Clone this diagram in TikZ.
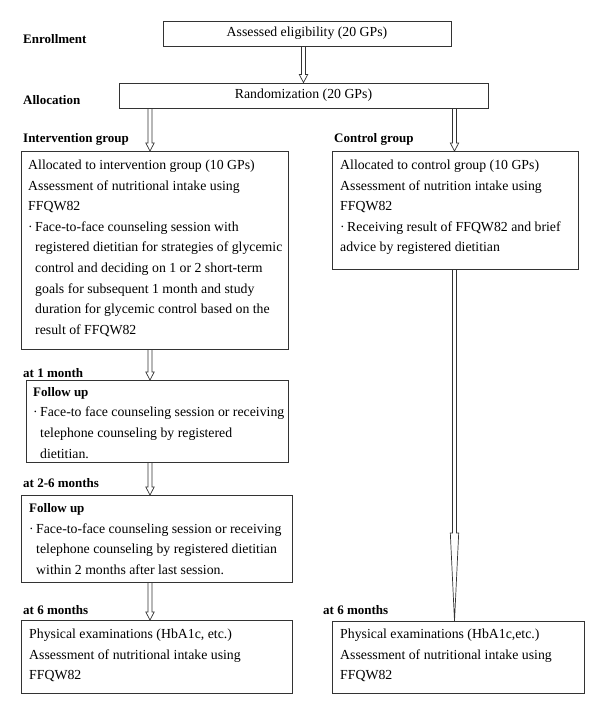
\documentclass[tikz,border=0pt]{standalone}
\usepackage{fontspec}
\setmainfont{Liberation Serif}
\usetikzlibrary{calc}
\newcommand{\fst}{\rule{0pt}{10pt}}
\newcommand{\bul}{\makebox[7pt][l]{·}}
\newcommand{\ind}{\hspace*{7pt}}
\newcommand{\harrow}[3]{%
  \draw[arr] let \p1=(#1), \p2=(#2) in
    (\x1-2pt,\y1) -- (\x1-2pt,\y2+#3) -- (\x1-4.2pt,\y2+#3) -- (\x1,\y2)
    -- (\x1+4.2pt,\y2+#3) -- (\x1+2pt,\y2+#3) -- (\x1+2pt,\y1);}
\tikzset{
  box/.style={draw=black!80, line width=0.9pt, inner sep=0pt, rectangle},
  boxnw/.style={box, anchor=north west},
  txt/.style={anchor=north west, inner sep=0pt, align=left,
    font=\fontsize{13.8}{20.6}\selectfont},
  ctxt/.style={font=\fontsize{13.8}{16}\selectfont},
  lbl/.style={anchor=base west, inner sep=0pt, font=\fontsize{13}{15}\selectfont\bfseries},
  arr/.style={draw=black!80, line width=0.7pt, line join=miter}
}
\begin{document}
\begin{tikzpicture}[x=1pt,y=-1pt]
\useasboundingbox (0,0) rectangle (600,714);
% boxes
\node[box, ctxt, minimum width=288, minimum height=25] (elig) at (307,33.5) {Assessed eligibility (20 GPs)};
\node[box, ctxt, minimum width=369, minimum height=25] (rand) at (303.5,95.5) {Randomization (20 GPs)};
\node[boxnw, minimum width=267, minimum height=198] (iv) at (21,151) {};
\node[boxnw, minimum width=246, minimum height=118] (ctrl) at (332,151) {};
\node[boxnw, minimum width=262, minimum height=82] (m1) at (26,380) {};
\node[boxnw, minimum width=271, minimum height=87] (m26) at (21,495) {};
\node[boxnw, minimum width=271, minimum height=73] (bl) at (21,620) {};
\node[boxnw, minimum width=252, minimum height=72] (br) at (332,621) {};
% texts
\node[txt] (ivt) at (28,159.3) {\fst Allocated to intervention group (10 GPs)\\
Assessment of nutritional intake using\\
FFQW82\\
\bul Face-to-face counseling session with\\
\ind registered dietitian for strategies of glycemic\\
\ind control and deciding on 1 or 2 short-term\\
\ind goals for subsequent 1 month and study\\
\ind duration for glycemic control based on the\\
\ind result of FFQW82};
\node[txt] (ctt) at (340,159.3) {\fst Allocated to control group (10 GPs)\\
Assessment of nutrition intake using\\
FFQW82\\
\bul Receiving result of FFQW82 and brief\\
advice by registered dietitian};
\node[txt] (m1t) at (33,386) {\fst\textbf{\fontsize{13}{20.6}\selectfont Follow up}\\
\bul Face-to face counseling session or receiving\\
\ind telephone counseling by registered\\
\ind dietitian.};
\node[txt] (m26t) at (29,502.3) {\fst\textbf{\fontsize{13}{20.6}\selectfont Follow up}\\
\bul Face-to-face counseling session or receiving\\
\ind telephone counseling by registered dietitian\\
\ind within 2 months after last session.};
\node[txt] (blt) at (29,628.3) {\fst Physical examinations (HbA1c, etc.)\\
Assessment of nutritional intake using\\
FFQW82};
\node[txt] (brt) at (340,628.3) {\fst Physical examinations (HbA1c,etc.)\\
Assessment of nutritional intake using\\
FFQW82};
% labels
\node[lbl] (lenr) at (23,43.3) {Enrollment};
\node[lbl] (lall) at (23,104.5) {Allocation};
\node[lbl] (lint) at (23,143) {Intervention group};
\node[lbl] (lcon) at (334,143) {Control group};
\node[lbl] (l1m) at (23,377) {at 1 month};
\node[lbl] (l26) at (23,487) {at 2-6 months};
\node[lbl] (l6l) at (23,614.5) {at 6 months};
\node[lbl] (l6r) at (323,614.5) {at 6 months};
% arrow columns
\coordinate (lx) at (150,0);
\coordinate (rx) at (454.5,0);
\harrow{elig.south -| rand.north}{rand.north}{8pt}
\harrow{rand.south -| lx}{iv.north -| lx}{8pt}
\harrow{rand.south -| rx}{ctrl.north -| rx}{8pt}
\harrow{iv.south -| lx}{m1.north -| lx}{8pt}
\harrow{m1.south -| lx}{m26.north -| lx}{8pt}
\harrow{m26.south -| lx}{bl.north -| lx}{8pt}
\harrow{ctrl.south -| rx}{br.north -| rx}{88pt}
\end{tikzpicture}
\end{document}
